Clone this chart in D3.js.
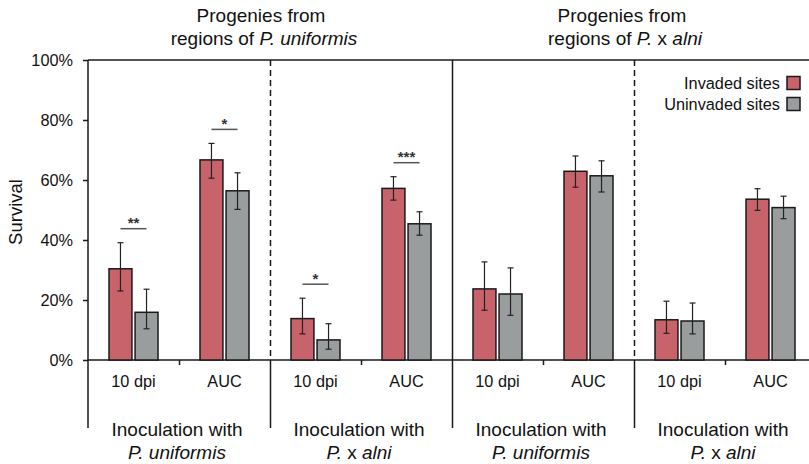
<!DOCTYPE html>
<html lang="en">
<head>
<meta charset="UTF-8">
<title>Survival of progenies</title>
<script src="https://d3js.org/d3.v7.min.js"></script>
<style>
    body { margin: 0; background: #fff; }
    svg { display: block; font-family: "Liberation Sans", Arial, sans-serif; }
</style>
</head>
<body>
<svg width="809" height="464"></svg>
<script>
    // panels: progeny region x inoculated species
    const panels = ["uni-uni", "uni-alni", "alni-uni", "alni-alni"];
    const inoculation = [["Inoculation with", "P. uniformis"], ["Inoculation with", "P. x alni"],
                         ["Inoculation with", "P. uniformis"], ["Inoculation with", "P. x alni"]];
    const measures = ["10 dpi", "AUC"];
    const series = ["Invaded sites", "Uninvaded sites"];
    const colors = ["#c9636b", "#999d9d"];

    // values in %, order: panel, measure
    const invaded      = [30.4, 66.7, 13.8, 57.2, 23.7, 62.9, 13.4, 53.6];
    const invadedLow   = [23.0, 60.6,  8.7, 53.3, 16.6, 57.6,  8.9, 49.9];
    const invadedHigh  = [39.1, 72.2, 20.6, 61.1, 32.7, 68.0, 19.6, 57.1];
    const uninvaded     = [15.9, 56.4,  6.7, 45.4, 22.0, 61.4, 13.0, 50.8];
    const uninvadedLow  = [10.4, 50.2,  3.6, 41.6, 14.9, 56.0,  8.7, 47.1];
    const uninvadedHigh = [23.6, 62.4, 12.1, 49.4, 30.7, 66.4, 19.0, 54.6];
    const signif = ["**", "*", "*", "***", "", "", "", ""];
    const yTicks = [0, 20, 40, 60, 80, 100];

    const svg = d3.select("svg");
    const plotLeft = 88, plotTop = 60, plotBottom = 360, panelW = 182;
    const ink = "#1a1a1a";

    const x0 = d3.scaleBand().domain(panels).range([plotLeft, plotLeft + panelW * 4]);
    const x1 = d3.scaleBand().domain(measures).range([0, x0.bandwidth()]);
    const x2 = d3.scaleBand().domain(series).range([21, 70]).paddingInner(0.12);
    const y = d3.scaleLinear().domain([0, 100]).range([plotBottom, plotTop]);

    const rows = [];
    panels.forEach((p, i) => measures.forEach((m, j) => {
        const k = i * 2 + j;
        rows.push({ p, m, k, bars: [
            { s: series[0], v: invaded[k], lo: invadedLow[k], hi: invadedHigh[k] },
            { s: series[1], v: uninvaded[k], lo: uninvadedLow[k], hi: uninvadedHigh[k] }
        ]});
    }));

    // y axis
    const yAxis = svg.append("g")
        .attr("transform", `translate(${plotLeft},0)`)
        .call(d3.axisLeft(y).tickValues(yTicks).tickSize(5).tickPadding(10).tickFormat(d => d + "%"));
    yAxis.select(".domain").attr("stroke", ink).attr("stroke-width", 1.5)
        .attr("d", `M0,${plotTop}V${plotBottom + 68}`);
    yAxis.selectAll(".tick line").attr("stroke", ink).attr("stroke-width", 1.5);
    yAxis.selectAll(".tick text").attr("font-size", 16.3).attr("fill", "#111")
        .attr("font-family", "Liberation Sans, Arial, sans-serif");

    svg.append("text")
        .attr("transform", `translate(22,${(plotTop + plotBottom) / 2 + 2}) rotate(-90)`)
        .attr("text-anchor", "middle")
        .attr("font-size", 18.5).attr("fill", "#111")
        .text("Survival");

    // frame top and baseline
    svg.append("line").attr("x1", plotLeft).attr("x2", 809).attr("y1", plotTop).attr("y2", plotTop)
        .attr("stroke", ink).attr("stroke-width", 1.5);
    svg.append("line").attr("x1", plotLeft).attr("x2", 809).attr("y1", plotBottom).attr("y2", plotBottom)
        .attr("stroke", ink).attr("stroke-width", 1.5);

    // panel separators
    panels.slice(1).forEach((p, i) => {
        const xx = Math.round(x0(p)) + 0.5;
        const dashed = i !== 1;
        svg.append("line").attr("x1", xx).attr("x2", xx).attr("y1", plotTop).attr("y2", plotBottom)
            .attr("stroke", ink).attr("stroke-width", 1.5)
            .attr("stroke-dasharray", dashed ? "6,4" : null);
        svg.append("line").attr("x1", xx).attr("x2", xx).attr("y1", plotBottom).attr("y2", plotBottom + 68)
            .attr("stroke", ink).attr("stroke-width", 1.5);
    });

    // minor ticks between measures
    panels.forEach(p => {
        const xx = Math.round(x0(p) + x1("AUC")) + 0.5;
        svg.append("line").attr("x1", xx).attr("x2", xx).attr("y1", plotBottom).attr("y2", plotBottom + 5)
            .attr("stroke", ink).attr("stroke-width", 1.5);
    });

    // bars
    const grp = svg.selectAll(".grp").data(rows).enter().append("g")
        .attr("transform", d => `translate(${x0(d.p) + x1(d.m)},0)`);

    grp.selectAll("rect").data(d => d.bars).enter().append("rect")
        .attr("x", d => x2(d.s))
        .attr("y", d => y(d.v))
        .attr("width", x2.bandwidth())
        .attr("height", d => y(0) - y(d.v))
        .attr("fill", (d, i) => colors[i])
        .attr("stroke", ink).attr("stroke-width", 1.5);

    // error bars
    const err = grp.selectAll(".err").data(d => d.bars).enter().append("g")
        .attr("transform", d => `translate(${x2(d.s) + x2.bandwidth() / 2},0)`)
        .attr("stroke", "#222").attr("stroke-width", 1.2);
    err.append("line").attr("y1", d => y(d.lo)).attr("y2", d => y(d.hi));
    err.append("line").attr("x1", -3).attr("x2", 3).attr("y1", d => y(d.hi)).attr("y2", d => y(d.hi));
    err.append("line").attr("x1", -3).attr("x2", 3).attr("y1", d => y(d.lo)).attr("y2", d => y(d.lo));

    // significance
    const sig = grp.filter(d => signif[d.k] !== "");
    const sigY = d => y(d3.max(d.bars, b => b.hi)) - 14;
    const cRed = x2(series[0]) + x2.bandwidth() / 2, cGray = x2(series[1]) + x2.bandwidth() / 2;
    sig.append("line")
        .attr("x1", cRed).attr("x2", cGray)
        .attr("y1", sigY).attr("y2", sigY)
        .attr("stroke", "#555").attr("stroke-width", 1.5);
    sig.append("text")
        .attr("x", (cRed + cGray) / 2)
        .attr("y", d => sigY(d) - 0.5)
        .attr("text-anchor", "middle")
        .attr("font-size", 15).attr("font-weight", "bold").attr("fill", "#333")
        .text(d => signif[d.k]);

    // measure labels
    grp.append("text")
        .attr("x", x1.bandwidth() / 2)
        .attr("y", plotBottom + 27)
        .attr("text-anchor", "middle")
        .attr("font-size", 16.3).attr("fill", "#111")
        .text(d => d.m);

    // inoculation labels
    panels.forEach((p, i) => {
        const cx = x0(p) + panelW / 2 - 2;
        svg.append("text").attr("x", cx).attr("y", 436).attr("text-anchor", "middle")
            .attr("font-size", 19).attr("fill", "#111").text(inoculation[i][0]);
        const t = svg.append("text").attr("x", cx).attr("y", 459).attr("text-anchor", "middle")
            .attr("font-size", 19).attr("fill", "#111");
        const sp = inoculation[i][1];
        if (sp.includes(" x ")) {
            t.append("tspan").attr("font-style", "italic").text("P.");
            t.append("tspan").text(" x ");
            t.append("tspan").attr("font-style", "italic").text("alni");
        } else {
            t.append("tspan").attr("font-style", "italic").text(sp);
        }
    });

    // top titles
    const titles = [
        { cx: 264, parts: [["regions of ", false], ["P. uniformis", true]] },
        { cx: 625, parts: [["regions of ", false], ["P.", true], [" x ", false], ["alni", true]] }
    ];
    titles.forEach(tt => {
        svg.append("text").attr("x", tt.cx - 3).attr("y", 22).attr("text-anchor", "middle")
            .attr("font-size", 19).attr("fill", "#111").text("Progenies from");
        const t = svg.append("text").attr("x", tt.cx).attr("y", 45).attr("text-anchor", "middle")
            .attr("font-size", 19).attr("fill", "#111").attr("xml:space", "preserve");
        tt.parts.forEach(([s, it]) => t.append("tspan").attr("font-style", it ? "italic" : null).text(s));
    });

    // legend
    const legend = svg.append("g").attr("transform", "translate(800,83)");
    series.forEach((s, i) => {
        const g = legend.append("g").attr("transform", `translate(0,${i * 21})`);
        g.append("rect").attr("x", -13).attr("y", -6.5).attr("width", 13).attr("height", 13)
            .attr("fill", colors[i]).attr("stroke", ink).attr("stroke-width", 1.5);
        g.append("text").attr("x", -20).attr("y", 0).attr("dy", "0.35em")
            .attr("text-anchor", "end").attr("font-size", 16.3).attr("fill", "#111").text(s);
    });
</script>
</body>
</html>
